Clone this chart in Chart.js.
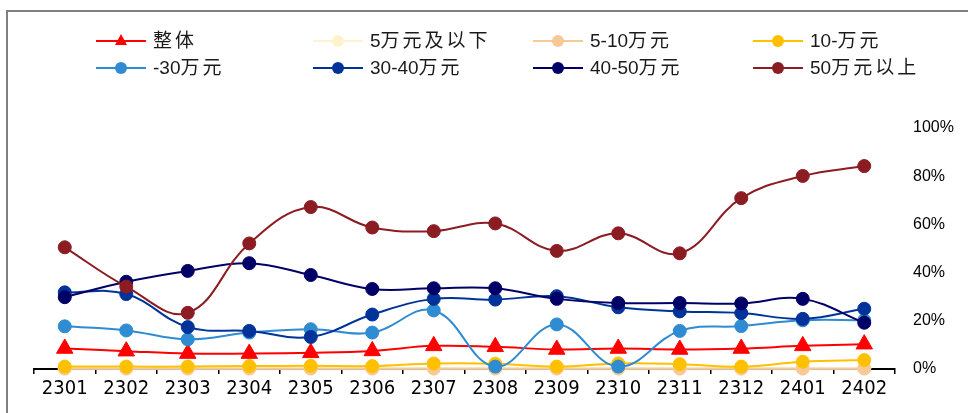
<!DOCTYPE html>
<html>
<head>
<meta charset="utf-8">
<script src="https://cdn.jsdelivr.net/npm/chart.js@4/dist/chart.umd.min.js"></script>
<style>
  html, body { margin: 0; padding: 0; background: #fff; }
  #wrap { position: relative; width: 968px; height: 413px; overflow: hidden; }
  #frame { position: absolute; left: 6px; top: 10px; width: 1200px; height: 600px;
           border-left: 2px solid #808080; border-top: 2px solid #808080; }
  canvas { position: absolute; left: 0; top: 0; }
</style>
</head>
<body>
<div id="wrap">
  <div id="frame"></div>
  <canvas id="c" width="968" height="413"></canvas>
</div>
<script>
// Months (YYMM)
const months = ['2301','2302','2303','2304','2305','2306','2307','2308','2309','2310','2311','2312','2401','2402'];

// Share by price band, %
const overall   = [8.5, 7.4, 6.4, 6.4, 6.7, 7.5, 9.6, 9.2, 8.1, 8.5, 8.1, 8.5, 9.6, 10.3];
const under5    = [0.1, 0.1, 0.1, 0.1, 0.1, 0.1, 0.1, 0.1, 0.1, 0.1, 0.1, 0.1, 0.1, 0.1];
const band5to10 = [0.2, 0.2, 0.2, 0.2, 0.2, 0.2, 0.2, 0.2, 0.2, 0.2, 0.2, 0.2, 0.2, 0.2];
const band10    = [1.0, 1.0, 1.0, 1.2, 1.3, 1.2, 2.3, 2.2, 1.0, 2.3, 2.0, 1.0, 3.0, 3.7];
const band30    = [17.7, 16.0, 12.3, 15.1, 16.5, 15.1, 24.3, 1.0, 18.5, 1.0, 15.8, 17.8, 20.2, 20.2];
const band30to40 = [31.8, 31.1, 17.4, 15.8, 13.3, 22.6, 29.1, 28.8, 30.2, 25.6, 23.9, 23.2, 20.8, 25.0];
const band40to50 = [29.8, 36.2, 40.7, 43.9, 39.0, 33.2, 33.5, 33.5, 29.1, 27.4, 27.4, 27.2, 29.1, 19.2];
const over50    = [50.5, 34.2, 23.3, 52.1, 67.2, 58.7, 57.2, 60.4, 49.0, 56.3, 48.0, 70.9, 80.1, 84.2];

// Y tick labels
const yTicks = ['0%', '20%', '40%', '60%', '80%', '100%'];

const seriesNames  = ['整体', '5万元及以下', '5-10万元', '10-万元', '-30万元', '30-40万元', '40-50万元', '50万元以上'];
const seriesData   = [overall, under5, band5to10, band10, band30, band30to40, band40to50, over50];
const seriesColors = ['#ff0000', '#fff2cc', '#f6c996', '#ffc000', '#2f8bd2', '#003399', '#000066', '#8b1c22'];

const datasets = seriesNames.map((name, i) => ({
  label: name,
  data: seriesData[i],
  borderColor: seriesColors[i],
  backgroundColor: seriesColors[i],
  borderWidth: 2,
  pointStyle: i === 0 ? 'triangle' : 'circle',
  pointRadius: i === 0 ? 9.5 : 6.5,
  pointBorderWidth: 1,
  tension: 0.4,
  clip: false,
  order: seriesNames.length - i
}));

// Draws a label with wider spacing after CJK characters
function drawSpacedText(ctx, text, x, y) {
  let cx = x;
  for (const ch of text) {
    ctx.fillText(ch, cx, y);
    cx += ctx.measureText(ch).width + (/[\u4e00-\u9fff]/.test(ch) ? 3 : 0);
  }
}

// Two-row legend laid out on a fixed four-column grid
const gridLegend = {
  id: 'gridLegend',
  afterDraw(chart) {
    const ctx = chart.ctx;
    const colX = [96, 313, 533, 753];
    const rowY = [41, 68];
    ctx.save();
    chart.data.datasets.forEach((ds, i) => {
      const x = colX[i % 4];
      const y = rowY[Math.floor(i / 4)];
      ctx.strokeStyle = ds.borderColor;
      ctx.lineWidth = 2;
      ctx.beginPath();
      ctx.moveTo(x, y);
      ctx.lineTo(x + 50, y);
      ctx.stroke();
      ctx.fillStyle = ds.borderColor;
      ctx.beginPath();
      if (ds.pointStyle === 'triangle') {
        ctx.moveTo(x + 25, y - 7);
        ctx.lineTo(x + 31, y + 4);
        ctx.lineTo(x + 19, y + 4);
        ctx.closePath();
      } else {
        ctx.arc(x + 25, y, 6, 0, Math.PI * 2);
      }
      ctx.fill();
      ctx.fillStyle = '#1a1a1a';
      ctx.font = '19px "Liberation Sans", "Noto Sans CJK SC", sans-serif';
      ctx.textBaseline = 'middle';
      ctx.textAlign = 'left';
      drawSpacedText(ctx, ds.label, x + 57, y + 1);
    });
    ctx.restore();
  }
};

new Chart(document.getElementById('c'), {
  type: 'line',
  data: { labels: months, datasets },
  options: {
    responsive: false,
    animation: false,
    layout: { padding: { left: 34, top: 128, right: 0, bottom: 0 } },
    plugins: { legend: { display: false }, tooltip: { enabled: false } },
    scales: {
      x: {
        type: 'category',
        offset: true,
        grid: { offset: true, drawOnChartArea: false, drawTicks: true, tickLength: 5, color: '#000', lineWidth: 1.5 },
        border: { display: true, color: '#000', width: 2 },
        ticks: {
          color: '#000',
          padding: 3,
          maxRotation: 0,
          autoSkip: false,
          font: { family: '"DejaVu Sans Condensed", "Liberation Sans Narrow", "Liberation Sans", sans-serif', size: 20 }
        },
        afterFit(scale) { scale.height = 44; }
      },
      y: {
        position: 'right',
        min: 0,
        max: 100,
        grid: { display: false, drawTicks: false },
        border: { display: false },
        ticks: {
          stepSize: 20,
          color: '#000',
          padding: 18,
          font: { family: '"Liberation Sans", Arial, sans-serif', size: 16 },
          callback: (v) => yTicks[Math.round(v / 20)]
        },
        afterFit(scale) { scale.width = 73; }
      }
    }
  },
  plugins: [gridLegend]
});
</script>
</body>
</html>
